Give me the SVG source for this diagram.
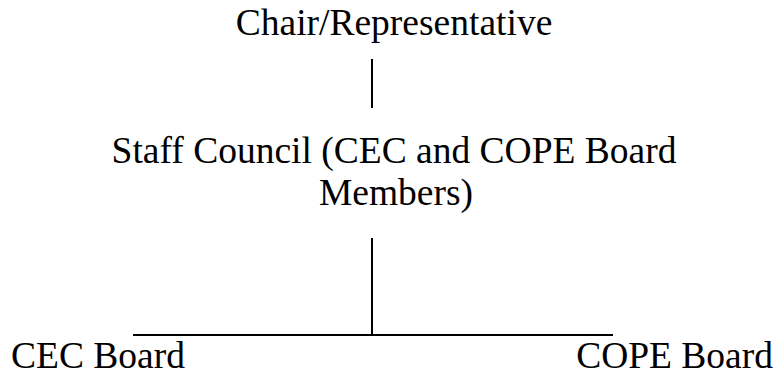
<svg xmlns="http://www.w3.org/2000/svg" width="778" height="375" viewBox="0 0 778 375">
<style>
text{font-family:"Liberation Serif","Times New Roman",serif;font-size:37.5px;fill:#000}
.c{stroke:#000;stroke-width:2;fill:none}
</style>
<rect width="778" height="375" fill="#fff"/>
<g id="chair"><text x="394" y="35" text-anchor="middle">Chair/Representative</text></g>
<g id="staff"><text x="394" y="163" text-anchor="middle">Staff Council (CEC and COPE Board</text><text x="396" y="205" text-anchor="middle">Members)</text></g>
<g id="cec"><text x="11" y="368">CEC Board</text></g>
<g id="cope"><text x="773" y="368" text-anchor="end">COPE Board</text></g>
<g id="connectors">
<line class="c" x1="372" y1="59" x2="372" y2="108"/>
<line class="c" x1="372" y1="238" x2="372" y2="335"/>
<line class="c" x1="133" y1="335" x2="613" y2="335"/>
</g>
</svg>
